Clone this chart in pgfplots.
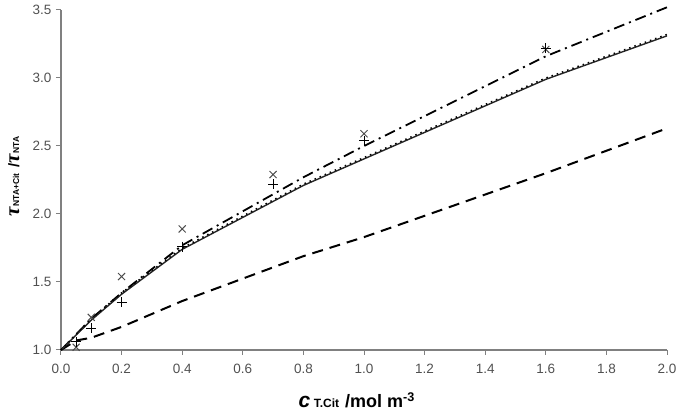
\documentclass[border=0pt]{standalone}
\usepackage{pgfplots}
\pgfplotsset{compat=1.18}
\usepackage{fontspec}
\setmainfont{Liberation Sans}
\newfontfamily\taufont{Liberation Serif}
\definecolor{axgray}{RGB}{128,128,128}
\definecolor{tickgray}{RGB}{80,80,80}
\begin{document}
\begin{tikzpicture}
\begin{axis}[
  scale only axis,
  width=606pt, height=340pt,
  xmin=0, xmax=2.0, ymin=1.0, ymax=3.5,
  axis x line*=bottom, axis y line*=left,
  axis line style={axgray, line width=1.2pt, -},
  xtick={0,0.2,...,2.0}, ytick={1,1.5,...,3.5},
  tick align=outside, major tick length=5pt,
  tick style={axgray, line width=1pt},
  /pgf/number format/assume math mode=true,
  xticklabel style={/pgf/number format/.cd, fixed, fixed zerofill, precision=1, /tikz/.cd, yshift=-6pt},
  yticklabel style={/pgf/number format/.cd, fixed, fixed zerofill, precision=1, /tikz/.cd, xshift=-1pt},
  ticklabel style={font=\fontsize{13.5}{15}\selectfont, text=tickgray},
  xlabel={\textbf{\fontsize{21}{21}\selectfont\textit{c}\,\fontsize{12}{12}\selectfont T.Cit} \textbf{\fontsize{18}{18}\selectfont/mol m\textsuperscript{-3}}},
  ylabel={{\taufont\bfseries\itshape τ}\textbf{\fontsize{8.5}{10}\selectfont NTA+Cit} \textbf{\fontsize{15}{16}\selectfont/}{\taufont\bfseries\itshape τ}\textbf{\fontsize{8.5}{10}\selectfont NTA}},
  label style={font=\fontsize{21}{22}\selectfont},
  xlabel style={at={(axis description cs:0.488,-0.147)}, anchor=center},
  ylabel style={at={(axis description cs:-0.078,0.51)}, anchor=center},
  clip=false,
]
% dashed
\addplot[black, line width=2pt, dash pattern=on 11pt off 7pt] coordinates {
(0,1) (0.05,1.07) (0.1,1.09) (0.2,1.17) (0.4,1.36) (0.8,1.69) (1.0,1.83) (1.6,2.30) (2.0,2.63)};
% dash-dot
\addplot[black, line width=1.8pt, dash pattern=on 11pt off 5pt on 2pt off 5pt] coordinates {
(0,1) (0.1,1.23) (0.2,1.42) (0.4,1.77) (0.8,2.27) (1.0,2.50) (1.6,3.16) (2.0,3.52)};
% solid
\addplot[black!85, line width=1.4pt] coordinates {
(0,1) (0.1,1.22) (0.2,1.41) (0.4,1.74) (0.8,2.21) (1.6,2.99) (2.0,3.31)};
% dotted
\addplot[black, line width=1.5pt, dash pattern=on 1.5pt off 4pt] coordinates {
(0,1) (0.1,1.23) (0.2,1.42) (0.4,1.75) (0.8,2.22) (1.6,3.00) (2.0,3.32)};
% x marks
\addplot[only marks, mark=x, mark size=5pt, black!70, line width=1pt] coordinates {
(0.05,1.02) (0.1,1.24) (0.2,1.54) (0.4,1.89) (0.7,2.29) (1.0,2.59) (1.6,3.21)};
% + marks
\addplot[only marks, mark=+, mark size=5pt, black, line width=1pt] coordinates {
(0.05,1.06) (0.1,1.16) (0.2,1.35) (0.4,1.76) (0.7,2.22) (1.0,2.54) (1.6,3.22)};
\path (rel axis cs:0,0) ++(-61pt,-62pt) coordinate (bbll);
\path (rel axis cs:1,1) ++(14pt,10pt) coordinate (bbur);
\end{axis}
\useasboundingbox (bbll) rectangle (bbur);
\end{tikzpicture}
\end{document}
